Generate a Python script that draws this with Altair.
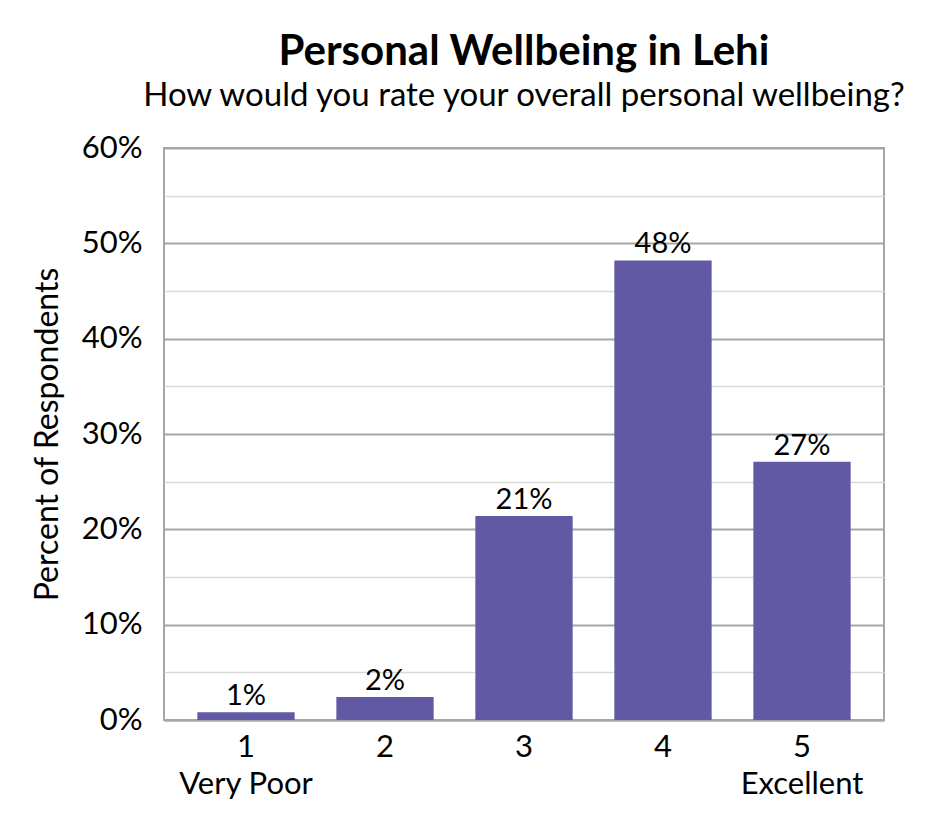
import altair as alt
import pandas as pd

ratings = ["1\nVery Poor", "2", "3", "4", "5\nExcellent"]
shares = [0.008, 0.024, 0.214, 0.482, 0.271]
y_ticks = [0, 0.05, 0.1, 0.15, 0.2, 0.25, 0.3, 0.35, 0.4, 0.45, 0.5, 0.55, 0.6]

FONT = "Lato"
BAR = "#6159A3"
GRID_MAJOR = "#A6A6A6"
GRID_MINOR = "#D9D9D9"

df = pd.DataFrame({"rating": ratings, "share": shares})

base = alt.Chart(df).encode(
    x=alt.X("rating:N", sort=ratings)
    .scale(paddingInner=0.3, paddingOuter=0.24)
    .axis(
        title=None,
        labelAngle=0,
        labelExpr="split(datum.label, '\\n')",
        labelFontSize=31,
        labelLineHeight=37,
        labelPadding=12,
        labelBaseline="top",
        ticks=False,
        domainColor=GRID_MAJOR,
        domainWidth=2,
        labelColor="black",
        labelFont=FONT,
    ),
    y=alt.Y("share:Q")
    .scale(domain=[0, 0.6], nice=False)
    .axis(
        title="Percent of Respondents",
        values=y_ticks,
        format=".0%",
        labelExpr="round(datum.value * 100) % 10 == 0 ? datum.label : ''",
        gridColor={
            "condition": {"test": "round(datum.value * 100) % 10 == 0", "value": GRID_MAJOR},
            "value": GRID_MINOR,
        },
        gridWidth={
            "condition": {"test": "round(datum.value * 100) % 10 == 0", "value": 2},
            "value": 1.5,
        },
        ticks=False,
        domain=False,
        labelFontSize=31,
        labelPadding=22,
        labelColor="black",
        labelFont=FONT,
        titleFontSize=32,
        titleFontWeight="normal",
        titleFont=FONT,
        titleColor="black",
        titlePadding=17,
    ),
)

bars = base.mark_bar(color=BAR)
labels = base.mark_text(
    baseline="bottom", dy=-1, fontSize=29, font=FONT, color="black"
).encode(text=alt.Text("share:Q", format=".0%"))

chart = (
    (bars + labels)
    .properties(
        width=720,
        height=572,
        autosize=alt.AutoSizeParams(type="none"),
        padding={"left": 156, "top": 140, "right": 40, "bottom": 100},
        title=alt.TitleParams(
            "Personal Wellbeing in Lehi",
            subtitle="How would you rate your overall personal wellbeing?",
            font=FONT,
            fontSize=42,
            fontWeight="bold",
            color="black",
            subtitleFont=FONT,
            subtitleFontSize=33,
            subtitleColor="black",
            subtitlePadding=6,
            anchor="middle",
            offset=18,
        ),
    )
    .configure_view(stroke=GRID_MAJOR, strokeWidth=2)
)

chart.save("out.html", embed_options={"renderer": "svg", "actions": False})
